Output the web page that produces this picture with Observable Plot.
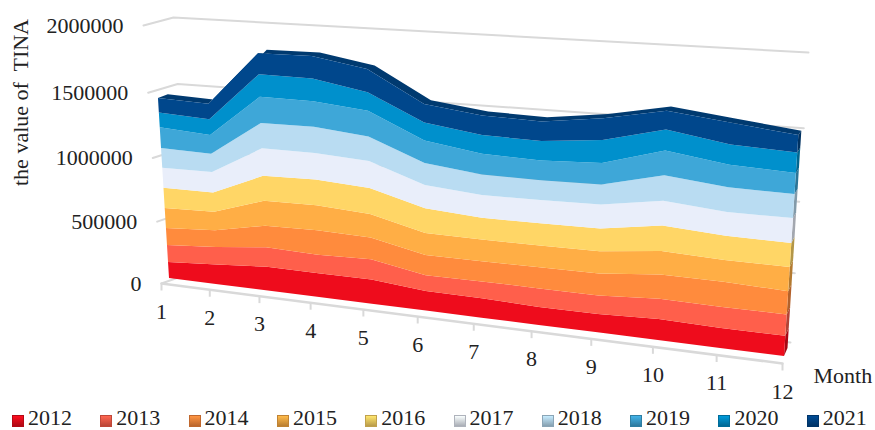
<!DOCTYPE html>
<html>
<head>
<meta charset="utf-8">
<script src="https://cdn.jsdelivr.net/npm/d3@7"></script>
<script src="https://cdn.jsdelivr.net/npm/@observablehq/plot@0.6"></script>
<style>
html,body{margin:0;padding:0;background:#fff;width:875px;height:430px;overflow:hidden}
svg{display:block}
#legend{position:relative;height:25px;font:22px/25px "Liberation Serif",serif;color:#222}
#legend div{position:absolute;top:0;height:25px;padding-left:16px;white-space:nowrap}
#legend i{position:absolute;left:0;top:10px;width:12px;height:12px;box-sizing:border-box}
</style>
</head>
<body>
<div id="chart"></div>
<div id="legend"></div>
<script>
const months = [1,2,3,4,5,6,7,8,9,10,11,12];
const years = ["2012","2013","2014","2015","2016","2017","2018","2019","2020","2021"];
const valueTicks = [0,500000,1000000,1500000,2000000];

const v2012 = [119000,145000,173000,172000,173000,139000,136000,125000,126000,143000,134000,135000];
const v2013 = [127000,130000,144000,135000,146000,113000,119000,129000,128000,138000,143000,142000];
const v2014 = [127000,125000,158000,179000,158000,144000,143000,148000,152000,168000,171000,157000];
const v2015 = [152000,137000,186000,184000,170000,157000,155000,153000,156000,161000,148000,164000];
const v2016 = [152000,145000,186000,189000,190000,180000,155000,157000,159000,177000,166000,162000];
const v2017 = [152000,155000,206000,197000,199000,168000,162000,165000,168000,173000,164000,169000];
const v2018 = [152000,137000,191000,197000,182000,161000,148000,141000,142000,177000,171000,164000];
const v2019 = [159000,143000,199000,191000,190000,164000,150000,141000,152000,175000,155000,144000];
const v2020 = [114000,120000,173000,172000,138000,132000,136000,141000,163000,147000,141000,142000];
const v2021 = [112000,118000,161000,172000,175000,137000,143000,141000,156000,133000,152000,120000];
const series = [v2012,v2013,v2014,v2015,v2016,v2017,v2018,v2019,v2020,v2021];

const colors = ["#ee0c1c","#ff5f4b","#ff8b3d","#ffae45","#ffd666","#e9eefa","#b9dcf2","#3ea7d8","#0090cc","#00478c"];
const topColor = "#003a70", gridColor = "#d9d9d9", inkColor = "#222";
const font = "Liberation Serif";

// A 3-D chart seen in perspective: each plane is a homography from (month, value) to the page.
function plane([x0,y0],[x1,y1],[x2,y2],[x3,y3],bu=1,bv=1) {
  const sx=x0-x1+x2-x3, sy=y0-y1+y2-y3, dx1=x1-x2, dx2=x3-x2, dy1=y1-y2, dy2=y3-y2;
  const det=dx1*dy2-dx2*dy1, g=(sx*dy2-dx2*sy)/det, h=(dx1*sy-sx*dy1)/det;
  const a=x1-x0+g*x1, b=x3-x0+h*x3, d=y1-y0+g*y1, e=y3-y0+h*y3;
  return (m,val) => {
    const u0=(m-1)/11, t0=val/2000000;
    const u=u0/(u0+bu*(1-u0)), t=t0/(t0+bv*(1-t0)), w=g*u+h*t+1;
    return [(a*u+b*t+x0)/w,(d*u+e*t+y0)/w];
  };
}
const front = plane([169,278],[784,356],[803,63],[153,17],1.025,0.92);
const wall  = plane([189,273],[790,342],[808,52],[173,17],1.02,1);
const axis  = plane([161,283],[782,363],[802,70],[143,25],1.035,1);
function rear(m,val){
  const u=(m-1)/11, t=Math.min(1,val/1500000), [x,y]=front(m,val);
  const bot=[8-u*4.5,-8], top=[10-u*7,-3.2-u*1.2];
  return [x+bot[0]+(top[0]-bot[0])*t, y+bot[1]+(top[1]-bot[1])*t];
}

const cumulative = months.map((m,i)=>{let s=0;return series.map(a=>{const lo=s;s+=a[i];return [lo,s];});});
const band = (k,fa,fb,ms=months)=>ms.map(m=>{
  const [lo,hi]=cumulative[m-1][k];
  const [x1,y1]=fa(m,lo,hi),[x2,y2]=fb(m,lo,hi);
  return {x1,y1,x2,y2};
});

const marks=[];
const gridRows=[];
for(const v of valueTicks){
  const a=axis(1,v),b=wall(1,v),c=wall(12,v);
  gridRows.push({v,x:a[0],y:a[1]},{v,x:b[0],y:b[1]});
  if(v>0) gridRows.push({v,x:c[0],y:c[1]});
}
marks.push(Plot.line(gridRows,{x:"x",y:"y",z:"v",stroke:gridColor,strokeWidth:2,curve:"linear"}));
const zeroBack=[wall(1,0),wall(12,0)].map(([x,y])=>({x,y}));
marks.push(Plot.line(zeroBack,{x:"x",y:"y",stroke:gridColor,strokeWidth:2}));
const floorLine=[axis(1,0),axis(12,0)].map(([x,y])=>({x,y}));
marks.push(Plot.line(floorLine,{x:"x",y:"y",stroke:gridColor,strokeWidth:2.5}));
const tickRows=months.map(m=>{const [x,y]=axis(m,0);return {m,x,y,y2:y+7};});
marks.push(Plot.link(tickRows,{x1:"x",x2:"x",y1:"y",y2:"y2",stroke:gridColor,strokeWidth:2}));

// top and right faces of the solid
const k9=series.length-1;
marks.push(Plot.area(band(k9,(m,lo,hi)=>front(m,hi),(m,lo,hi)=>rear(m,hi)),{x1:"x1",y1:"y1",x2:"x2",y2:"y2",fill:topColor}));
series.forEach((_,k)=>{
  const [lo,hi]=cumulative[11][k];
  const rows=[front(12,lo).concat(front(12,hi)),rear(12,lo).concat(rear(12,hi))].map(([x1,y1,x2,y2])=>({x1,y1,x2,y2}));
  marks.push(Plot.area(rows,{x1:"x1",y1:"y1",x2:"x2",y2:"y2",fill:d3.color(colors[k]).darker(1).formatHex()}));
});
// front faces
series.forEach((_,k)=>{
  marks.push(Plot.area(band(k,(m,lo)=>front(m,lo),(m,lo,hi)=>front(m,hi)),{x1:"x1",y1:"y1",x2:"x2",y2:"y2",fill:colors[k]}));
});

// texts
const textBase={fontFamily:font,fontSize:22,fill:inkColor};
const monthLabels=months.map(m=>{const [x,y]=axis(m,0);return {m,x,y};});
marks.push(Plot.text(monthLabels,{x:"x",y:"y",text:d=>String(d.m),dy:28,...textBase}));
const valueLabels=valueTicks.map(v=>{const [x,y]=axis(1,v);return {v,x,y};});
marks.push(Plot.text(valueLabels,{x:"x",y:"y",text:d=>String(d.v),dx:-20,dy:0,textAnchor:"end",...textBase}));
marks.push(Plot.text([{x:20,y:102}],{x:"x",y:"y",text:()=>"the value of  TINA",rotate:-90,...textBase}));
marks.push(Plot.text([{x:813,y:375}],{x:"x",y:"y",text:()=>"Month",textAnchor:"start",...textBase}));

const svg=Plot.plot({
  width:875,height:405,margin:0,
  x:{domain:[0,875],range:[0,875],axis:null},
  y:{domain:[0,405],range:[0,405],axis:null},
  style:{background:"#fff",overflow:"visible"},
  marks
});
document.getElementById("chart").append(svg);

const legend=document.getElementById("legend");
years.forEach((yr,i)=>{
  const d=document.createElement("div");
  d.style.left=(12+i*88.3)+"px";
  const sw=document.createElement("i");
  const c=d3.color(colors[i]);
  sw.style.background=`linear-gradient(to bottom,${c.brighter(0.2).formatHex()},${c.darker(0.9).formatHex()})`;
  sw.style.border=`1px solid ${c.darker(0.8).formatHex()}`;
  d.append(sw,document.createTextNode(yr));
  legend.append(d);
});
</script>
</body>
</html>
